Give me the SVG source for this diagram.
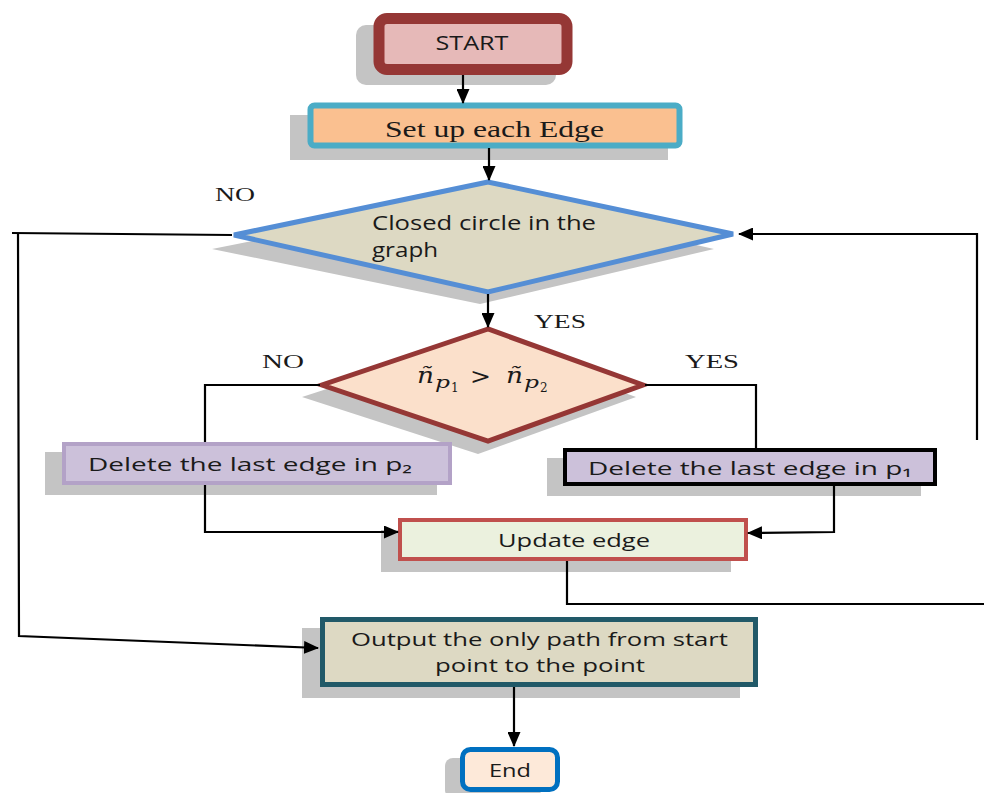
<svg xmlns="http://www.w3.org/2000/svg" width="984" height="793" viewBox="0 0 984 793">
  <defs>
    <marker id="arrow" markerUnits="userSpaceOnUse" markerWidth="15" markerHeight="13" refX="14" refY="6.5" orient="auto">
      <path d="M0,0 L15,6.5 L0,13 Z" fill="#000"/>
    </marker>
    <style>
      .shadow { fill: #c4c4c4; }
      .sans { font-family: "Open Sans", "Liberation Sans", sans-serif; fill: #1a1a1a; }
      .serif { font-family: "Liberation Serif", "DejaVu Serif", serif; fill: #1a1a1a; }
      .math { font-family: "DejaVu Serif", "Liberation Serif", serif; fill: #1a1a1a; font-style: italic; }
      .math.up { font-style: normal; }
      .conn { fill: none; stroke: #000; stroke-width: 2.2; }
    </style>
  </defs>
  <rect width="984" height="793" fill="#fff"/>

  <!-- START -->
  <g id="start">
    <rect class="shadow" x="356" y="25" width="200" height="60" rx="10"/>
    <rect x="379" y="18.5" width="188" height="51" rx="8" fill="#e6b9b8" stroke="#953735" stroke-width="11"/>
    <text class="sans" x="472" y="50" font-size="20" text-anchor="middle" textLength="73" lengthAdjust="spacingAndGlyphs">START</text>
  </g>

  <!-- Set up each Edge -->
  <g id="setup">
    <rect class="shadow" x="290" y="115" width="378" height="45"/>
    <rect x="310.5" y="105.5" width="369" height="40" rx="4" fill="#fac090" stroke="#4bacc6" stroke-width="6"/>
    <text class="serif" x="385" y="137" font-size="24" textLength="219" lengthAdjust="spacingAndGlyphs">Set up each Edge</text>
  </g>

  <!-- Closed circle test -->
  <g id="closed-circle">
    <polygon class="shadow" points="480,196 212,249 480,304 714,249"/>
    <polygon points="488,182 234,235 488,292 733,234" fill="#ddd9c3" stroke="#558ed5" stroke-width="5"/>
    <text class="sans" x="372" y="230" font-size="20" textLength="224" lengthAdjust="spacingAndGlyphs">Closed circle in the</text>
    <text class="sans" x="372" y="257" font-size="20" textLength="66" lengthAdjust="spacingAndGlyphs">graph</text>
  </g>
  <text class="serif" x="215" y="201" font-size="19" textLength="40" lengthAdjust="spacingAndGlyphs">NO</text>
  <text class="serif" x="534" y="328" font-size="19" textLength="52" lengthAdjust="spacingAndGlyphs">YES</text>

  <!-- Comparison -->
  <g id="compare">
    <polygon class="shadow" points="478,340 302,397 478,454 636,397"/>
    <polygon points="488,329 322,385 488,441 643,385" fill="#fbe0cb" stroke="#953735" stroke-width="5"/>
    <text class="math" x="417" y="383" font-size="22" textLength="17" lengthAdjust="spacingAndGlyphs">ñ</text>
    <text class="math" x="435" y="388" font-size="17" textLength="15" lengthAdjust="spacingAndGlyphs">p</text>
    <text class="math up" x="451" y="392" font-size="12">1</text>
    <text class="math up" x="470" y="384" font-size="22" textLength="21" lengthAdjust="spacingAndGlyphs">&gt;</text>
    <text class="math" x="506" y="383" font-size="22" textLength="17" lengthAdjust="spacingAndGlyphs">ñ</text>
    <text class="math" x="524" y="388" font-size="17" textLength="15" lengthAdjust="spacingAndGlyphs">p</text>
    <text class="math up" x="540" y="392" font-size="12">2</text>
  </g>
  <text class="serif" x="262" y="368" font-size="19" textLength="42" lengthAdjust="spacingAndGlyphs">NO</text>
  <text class="serif" x="685" y="368" font-size="19" textLength="54" lengthAdjust="spacingAndGlyphs">YES</text>

  <!-- Delete in p2 -->
  <g id="delete-p2">
    <rect class="shadow" x="45" y="452" width="392" height="43"/>
    <rect x="64" y="444" width="386" height="39" fill="#ccc1da" stroke="#b3a2c7" stroke-width="4"/>
    <text class="sans" x="88" y="471" font-size="19" textLength="324" lengthAdjust="spacingAndGlyphs">Delete the last edge in p₂</text>
  </g>

  <!-- Delete in p1 -->
  <g id="delete-p1">
    <rect class="shadow" x="547" y="458" width="374" height="38"/>
    <rect x="565" y="450" width="370" height="34" fill="#ccc1da" stroke="#000" stroke-width="4"/>
    <text class="sans" x="588" y="475" font-size="19" textLength="324" lengthAdjust="spacingAndGlyphs">Delete the last edge in p₁</text>
  </g>

  <!-- Update edge -->
  <g id="update">
    <rect class="shadow" x="381" y="530" width="350" height="42"/>
    <rect x="400" y="520" width="346" height="39" fill="#ebf1de" stroke="#c0504d" stroke-width="4"/>
    <text class="sans" x="498" y="547" font-size="19" textLength="152" lengthAdjust="spacingAndGlyphs">Update edge</text>
  </g>

  <!-- Output -->
  <g id="output">
    <rect class="shadow" x="302" y="628" width="438" height="70"/>
    <rect x="322.5" y="619.5" width="433" height="65" fill="#ddd9c3" stroke="#215968" stroke-width="5"/>
    <text class="sans" x="351" y="646" font-size="19" textLength="377" lengthAdjust="spacingAndGlyphs">Output the only path from start</text>
    <text class="sans" x="435" y="672" font-size="19" textLength="210" lengthAdjust="spacingAndGlyphs">point to the point</text>
  </g>

  <!-- End -->
  <g id="end">
    <rect class="shadow" x="445" y="758" width="96" height="40" rx="8"/>
    <rect x="462.5" y="749.5" width="95" height="40" rx="8" fill="#fde9d9" stroke="#0070c0" stroke-width="5"/>
    <text class="sans" x="489" y="777" font-size="19" textLength="42" lengthAdjust="spacingAndGlyphs">End</text>
  </g>

  <!-- connectors -->
  <g id="connectors" class="conn">
    <path d="M463,75 L463,103" marker-end="url(#arrow)"/>
    <path d="M489,148 L489,180" marker-end="url(#arrow)"/>
    <path d="M488,294 L488,327" marker-end="url(#arrow)"/>
    <!-- NO branch of the loop test -->
    <path d="M232,235 L12,233"/>
    <path d="M18,233 L19,636 L318,648" marker-end="url(#arrow)"/>
    <!-- return path back to the loop test -->
    <path d="M567,561 L567,604 L984,604"/>
    <path d="M977,440 L977,234 L739,234" marker-end="url(#arrow)"/>
    <!-- comparison branches -->
    <path d="M320,385 L205,385 L205,442"/>
    <path d="M645,385 L756,385 L756,448"/>
    <path d="M205,485 L205,532 L398,532" marker-end="url(#arrow)"/>
    <path d="M834,486 L834,532 L748,533" marker-end="url(#arrow)"/>
    <path d="M514,687 L514,746" marker-end="url(#arrow)"/>
  </g>
</svg>
